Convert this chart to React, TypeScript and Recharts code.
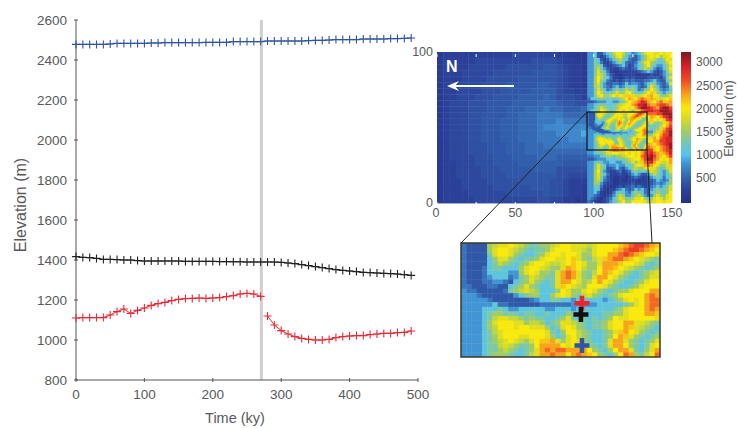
import React from "react";
import {
  ComposedChart,
  ScatterChart,
  Scatter,
  Line,
  Bar,
  XAxis,
  YAxis,
  ReferenceLine,
} from "recharts";

const FONT = "'Liberation Sans', Arial, sans-serif";
const TEXT = "#58595b";

const times = [
  0, 10, 20, 30, 40, 50, 60, 70, 80, 90, 100, 110, 120, 130, 140, 150, 160, 170, 180, 190, 200, 210, 220, 230, 240,
  250, 260, 270, 280, 290, 300, 310, 320, 330, 340, 350, 360, 370, 380, 390, 400, 410, 420, 430, 440, 450, 460, 470,
  480, 490,
];
const blueSeries = [
  2478, 2478, 2478, 2478, 2478, 2480, 2483, 2483, 2483, 2483, 2483, 2485, 2485, 2487, 2487, 2487, 2487, 2487, 2487,
  2488, 2488, 2488, 2488, 2492, 2492, 2492, 2492, 2492, 2495, 2495, 2495, 2495, 2495, 2495, 2497, 2498, 2498, 2500,
  2502, 2502, 2502, 2502, 2505, 2505, 2505, 2505, 2507, 2507, 2508, 2510,
];
const blackSeries = [
  1417, 1413, 1412, 1408, 1403, 1403, 1402, 1400, 1400, 1397, 1395, 1395, 1395, 1395, 1395, 1395, 1393, 1393, 1393,
  1393, 1393, 1392, 1392, 1391, 1391, 1390, 1390, 1390, 1390, 1390, 1388, 1385, 1382, 1377, 1372, 1367, 1362, 1357,
  1352, 1348, 1345, 1342, 1338, 1337, 1335, 1333, 1332, 1330, 1327, 1323,
];
// red series breaks after 270 ky
const redEarly = [
  1110, 1112, 1112, 1112, 1112, 1125, 1142, 1155, 1133, 1148, 1160, 1173, 1182, 1188, 1197, 1203, 1207, 1208, 1210,
  1208, 1210, 1212, 1217, 1222, 1230, 1233, 1230, 1218,
];
const redLate = [
  1120, 1075, 1047, 1030, 1017, 1008, 1003, 1000, 1000, 1003, 1012, 1017, 1020, 1022, 1022, 1027, 1030, 1033, 1033,
  1037, 1038, 1045,
];
const timeTicks = [0, 100, 200, 300, 400, 500];
const elevationTicks = [800, 1000, 1200, 1400, 1600, 1800, 2000, 2200, 2400, 2600];
const eventTime = 271;

// colormap: elevation (m) -> colour
const colorStops: [number, string][] = [
  [-40, "#272f85"],
  [250, "#2b429b"],
  [500, "#3361ae"],
  [800, "#4090d2"],
  [1000, "#55c4ee"],
  [1200, "#6cc6c4"],
  [1500, "#a0cc68"],
  [1800, "#d9dc22"],
  [2000, "#f9e90c"],
  [2300, "#f6a41c"],
  [2600, "#ee4c25"],
  [2900, "#d7212a"],
  [3200, "#7c1a1e"],
];

// map cells are written as one character per cell, looked up in these tables
const plainLevels: Record<string, number> = {
  "0": 150, "1": 230, "2": 300, "3": 360, "4": 420, "5": 480, "6": 550, "7": 640, "8": 750, "9": 900,
};
const ridgeLevels: Record<string, number> = {
  a: 100, b: 250, c: 420, d: 620, e: 820, f: 1080, g: 1300, h: 1500, i: 1680,
  j: 1850, k: 2000, l: 2150, m: 2300, n: 2500, o: 2700, p: 2900, q: 3100,
};

// x 0-96, y 100-0, 4 unit cells
const plainRows = [
  "011111111111222222211000",
  "011111222222222333321100",
  "011112222223333334432110",
  "011122222333333444432110",
  "011122223333344444432110",
  "011222233334444455432110",
  "011222233344444555532211",
  "011222333444455556533321",
  "012223334444555566654433",
  "012223334445556667665556",
  "012223344445566677776666",
  "012223344455566677787777",
  "012223344455566678888888",
  "012223344455566677788889",
  "012223344455566677777888",
  "012223334445556667777777",
  "012223334445556666666666",
  "012222333444555566655555",
  "011222333444455555554444",
  "011222233344444555533333",
  "011222233334444444433222",
  "011122223333344444332111",
  "011122222333333444332110",
  "011112222223333334332110",
  "011111222222222233221100",
];

// x 96-150, y 100-0, 2 unit cells
const ridgeRows = [
  "eefccefgikkigfdefhjkkjjkjkk",
  "eefcbcefhjkhfedcefhjkjkhjjk",
  "eegfcbcefhigfdccefhjjigfhkj",
  "eegfdbbcefhfdccdfhjkhgffgik",
  "eeghfcbbcdefdbcefgikhfeefhj",
  "eegigecbbbcdcbcdfgihgecdfhk",
  "eegjhfdbaabbbbbbcdefecbcegj",
  "eegjigecbaabbbbaabbbcbbcefh",
  "eehkigfdbbabcbcbbbbccccbdgj",
  "eehkhfdcbcbcdcdcccddefdccfh",
  "eehjgeccddcdfdeedcefhgedcej",
  "eehigedcefdegfgfdcdgjhfdcdg",
  "eegjhfdefhfgighfdeghkigedef",
  "eegkigfghjhhjkhgfgikljhfegh",
  "eegjkhhiklkjlljiijklmkjhghj",
  "dffghgfgfghikmlkmnmlmljijkl",
  "ccdeeeffeefgiklmnpomlkmnllm",
  "eefgggffghijkkmnppqnmmnoonm",
  "eefhjhgfghjkkjkmoqqponmpqqo",
  "efghkjhfgiklkjhjlnoppooqqqp",
  "efgijkjhgikmkjhhjlmnnnooqqq",
  "efhhjlkihikklkjhgijkmlkmopq",
  "eggfhjkjhhjkmlkjhfhjlkjklop",
  "edffhjkkjhhjkmmlkhghjhghjln",
  "ddefghjkkjihjklnmlifgfgikmo",
  "ccdddefgiklkjjkmklkhfghjmop",
  "ddefefddfgijkkjigffeehjlnoq",
  "cefgfhjihfgjlljigfeghjkmooq",
  "defjihkjihjlmkjhgfgjjmknopp",
  "eehjkjkkjkmlkihggijkkmmoopp",
  "eeghjkkjkmlkjhgghjkmlkmnopq",
  "eefgikmlkmnmlkjijkmnmlkmnoq",
  "eefghjkmnnmmlkjjkmnoolkmnop",
  "eefgghjjkkjjklkjkmoopnmlmnp",
  "ddeefghhfhhijkkjknopqomlkmo",
  "ccdeeefffggghijkkmoqqnmkjkm",
  "eefgfeeffeefghjhjlnopmkjijm",
  "eegjhfdeefeegfgjkjmnmkjhhjl",
  "eegjhfccdfdcefhihhjkjjhfgij",
  "eehkgecbbcdbcdfhfgfhjihfegj",
  "eehjhfdbbbcbbcefeccegigfefh",
  "eehjgecbaabbabcdcbbcefgfdfg",
  "eehigdcbaabaabbbabbccdfedeh",
  "eehhecbbaabbbbcbbbbccdedefh",
  "eegfdbbaabcbccdcdcbcdefefgj",
  "eeffcbabbdefdcdfefdcefhfghj",
  "eefdbaabdfgfedfhgfdcfghgfhk",
  "eedcbabcegiheefhigecehjhgjk",
  "edcbabcdfhjigghjjkhfhjkjhjk",
  "dcbaabcefgikhhjkkkjhijkkjkk",
];

// zoomed box: x 96-134, y 60-35, 1 unit cells
const insetRows = [
  "dcccchijjkjihgghhijkkjjjijkkkklmnoonml",
  "dcccchjkkjihgfgghjkkkjjihjkkklmnoonmlk",
  "dccccgjkkjhgffghjkkjkkjhhjkkmmnonmlkkj",
  "dccccfhjjhgfgghjkkjjkljhgijlmnnmlkjihg",
  "dccccfgihgfghjkkjiijklkjhhjmmmlkkjigfg",
  "dcccdfggfffhjkkjihhjmlkihhkmmlkjihgfgh",
  "dcccdffffeehjkjhhgjmnmjhgikmlkjhgfghij",
  "dcccdefffdeghjihggjmnmjhgjmmkjhgffghjj",
  "dcccddeedcfghjhgfgjmmkjhikmkjhgffghjkk",
  "ddcccddccfghjhgffgjlkjihkkkjhgffghjkkk",
  "eddcccccdghijihfffhkjhhjkjhgfghhjkkkmm",
  "eeedccccccefghhffhjkjhgijhgfghjkkkkmnm",
  "eeeeedcccccccdeffggffefffffefghjkjkmnn",
  "eeeeeefddccccccddddddeeeeefffffghjkmnn",
  "eeeefffgfeefffffeefffefffffffghjkkkmnm",
  "eeeefghhgggfggffgfffhgfgfffgghhjkkkmml",
  "eeeefgijjiihghggffghjgfgfgfghkjjkkkkkj",
  "eeeefhjkkkjjhiihfghjjihgfgghjkkmmjjihg",
  "eeeefhikkkjkkjjjhfgjkjhgfgghjkkmljihgf",
  "eeeefgijkkkkkkkkjgfhkkihgffghjlmkjhgfg",
  "eeeefghjkkkjjkkkjhfgjkihgffghkmljhgfgh",
  "eeeefghijkjihjkllmjhjkjhgffgjmmjhgfghj",
  "eeeefggijihgghkmmmmkjkjhhgfgjmmkhgfgjk",
  "eeeefgghihgfghjmnmnnmmmmkhgfhkmmjgfhjm",
  "eeeefghhhgffgijmmnmmkmnmlkhgfhknmhgikn",
];

const redCross = [{ x: 119.1, y: 46.8 }];
const blackCross = [{ x: 118.9, y: 44.3 }];
const blueCross = [{ x: 119.1, y: 37.5 }];

const mapXTicks = [0, 25, 50, 75, 100, 125, 150];
const mapYTicks = [0, 100];
const colorbarTicks = [500, 1000, 1500, 2000, 2500, 3000];
const colorbarRange = [{ name: "range", span: [-40, 3215] }];

const hexToRgb = (h: string) => [1, 3, 5].map((i) => parseInt(h.slice(i, i + 2), 16));

function elevationColor(v: number) {
  for (let i = 1; i < colorStops.length; i++) {
    const [v0, c0] = colorStops[i - 1];
    const [v1, c1] = colorStops[i];
    if (v <= v1) {
      const t = (v - v0) / (v1 - v0);
      const a = hexToRgb(c0);
      const b = hexToRgb(c1);
      return `rgb(${a.map((n, k) => Math.round(n + (b[k] - n) * t)).join(",")})`;
    }
  }
  return colorStops[colorStops.length - 1][1];
}

// turn the character rows into x / y / elevation cells
function toCells(rows: string[], levels: Record<string, number>, xLeft: number, yTop: number, step: number) {
  const cells: { x: number; y: number; z: number }[] = [];
  rows.forEach((row, j) => {
    row.split("").forEach((ch, i) => {
      cells.push({ x: xLeft + (i + 0.5) * step, y: yTop - (j + 0.5) * step, z: levels[ch] });
    });
  });
  return cells;
}

const plainCells = toCells(plainRows, plainLevels, 0, 100, 4);
const ridgeCells = toCells(ridgeRows, ridgeLevels, 96, 100, 2);
const insetCells = toCells(insetRows, ridgeLevels, 96, 60, 1);

const chartRows = times.map((t, i) => ({
  t,
  blue: blueSeries[i],
  black: blackSeries[i],
  redA: i < redEarly.length ? redEarly[i] : null,
  redB: i >= redEarly.length ? redLate[i - redEarly.length] : null,
}));

const plusDot = (color: string) => (props: any) => {
  const { cx, cy, index } = props;
  if (cx == null || cy == null) return <g key={index} />;
  return <path key={index} d={`M${cx - 4} ${cy}H${cx + 4}M${cx} ${cy - 4}V${cy + 4}`} stroke={color} strokeWidth={1.1} fill="none" />;
};

const cellShape = (w: number, h: number) => (props: any) => (
  <rect
    x={props.cx - w / 2}
    y={props.cy - h / 2}
    width={w + 0.4}
    height={h + 0.4}
    fill={elevationColor(props.payload.z)}
  />
);

const crossShape = (color: string) => (props: any) => (
  <path
    d={`M${props.cx - 7.5} ${props.cy}H${props.cx + 7.5}M${props.cx} ${props.cy - 7.5}V${props.cy + 7.5}`}
    stroke={color}
    strokeWidth={4.5}
    fill="none"
  />
);

const ElevationTick = ({ x, y, payload }: any) => (
  <g>
    <line x1={x} x2={x + 4} y1={y} y2={y} stroke="#555" />
    <text x={x - 7} y={y + 4.5} textAnchor="end" fontSize={13.5} fill={TEXT} fontFamily={FONT}>
      {payload.value}
    </text>
  </g>
);

const TimeTick = ({ x, y, payload }: any) => (
  <g>
    <line x1={x} x2={x} y1={y} y2={y - 4} stroke="#555" />
    <text x={x} y={y + 17} textAnchor="middle" fontSize={13.5} fill={TEXT} fontFamily={FONT}>
      {payload.value}
    </text>
  </g>
);

const MapXTick = ({ x, y, payload }: any) => (
  <g>
    <line x1={x} x2={x} y1={y} y2={y - 3} stroke="#fff" />
    <line x1={x} x2={x} y1={y - 151} y2={y - 148} stroke="#fff" />
    {payload.value % 50 === 0 && (
      <text x={x - (payload.value === 0 ? 1 : 0)} y={y + 12} textAnchor="middle" fontSize={12.5} fill={TEXT} fontFamily={FONT}>
        {payload.value}
      </text>
    )}
  </g>
);

const MapYTick = ({ x, y, payload }: any) => (
  <text x={x - 2} y={y + 4} textAnchor="end" fontSize={12.5} fill={TEXT} fontFamily={FONT}>
    {payload.value}
  </text>
);

const ColorbarTick = ({ x, y, payload }: any) => (
  <g>
    <line x1={x - 2} x2={x} y1={y} y2={y} stroke="#fff" />
    <text x={x + 3} y={y + 4.5} fontSize={12} fill={TEXT} fontFamily={FONT}>
      {payload.value}
    </text>
  </g>
);

export default function App() {
  return (
    <div style={{ position: "absolute", left: 0, top: 0, width: 737, height: 428, background: "#fff", fontFamily: FONT }}>
      <div style={{ position: "absolute", left: 0, top: 0 }}>
        <ComposedChart width={430} height={428} data={chartRows} margin={{ top: 20, right: 12, bottom: 0, left: 0 }}>
          <XAxis
            dataKey="t"
            type="number"
            domain={[0, 500]}
            ticks={timeTicks}
            tick={<TimeTick />}
            tickLine={false}
            tickSize={0}
            height={48}
            stroke="#555"
            label={{ value: "Time (ky)", position: "insideBottom", offset: 5, dx: -12, fontSize: 14.5, fill: TEXT, fontFamily: FONT }}
          />
          <YAxis
            type="number"
            domain={[800, 2600]}
            ticks={elevationTicks}
            tick={<ElevationTick />}
            tickLine={false}
            tickSize={0}
            width={76}
            stroke="#555"
            label={{ value: "Elevation (m)", angle: -90, position: "insideLeft", offset: 20, dy: 5, textAnchor: "middle", fontSize: 16, fill: TEXT, fontFamily: FONT }}
          />
          <ReferenceLine x={eventTime} stroke="#cfcfcf" strokeWidth={3} />
          <Line dataKey="blue" stroke="#2f55a4" strokeWidth={1} dot={plusDot("#2f55a4")} isAnimationActive={false} />
          <Line dataKey="black" stroke="#222" strokeWidth={1} dot={plusDot("#222")} isAnimationActive={false} />
          <Line dataKey="redA" stroke="#ec2a35" strokeWidth={1} dot={plusDot("#ec2a35")} isAnimationActive={false} />
          <Line dataKey="redB" stroke="#ec2a35" strokeWidth={1} dot={plusDot("#ec2a35")} isAnimationActive={false} />
        </ComposedChart>
      </div>

      {/* map */}
      <div style={{ position: "absolute", left: 407, top: 42 }}>
        <ScatterChart width={280} height={181} margin={{ top: 10, right: 15, bottom: 0, left: 0 }}>
          <XAxis
            dataKey="x"
            type="number"
            domain={[0, 150]}
            ticks={mapXTicks}
            interval={0}
            tick={<MapXTick />}
            tickLine={false}
            axisLine={false}
            tickSize={0}
            height={20}
          />
          <YAxis
            dataKey="y"
            type="number"
            domain={[0, 100]}
            ticks={mapYTicks}
            tick={<MapYTick />}
            tickLine={false}
            axisLine={false}
            tickSize={0}
            width={30}
          />
          <Scatter data={plainCells} shape={cellShape(6.27, 6.04)} isAnimationActive={false} />
          <Scatter data={ridgeCells} shape={cellShape(3.13, 3.02)} isAnimationActive={false} />
          <Scatter data={insetCells} shape={cellShape(1.57, 1.51)} isAnimationActive={false} />
        </ScatterChart>
      </div>

      {/* colour bar */}
      <div style={{ position: "absolute", left: 676, top: 42 }}>
        <ComposedChart width={61} height={161} data={colorbarRange} margin={{ top: 10, right: 0, bottom: 0, left: 5 }} barCategoryGap={0}>
          <defs>
            <linearGradient id="elevationBar" x1="0" y1="1" x2="0" y2="0">
              {colorStops.map(([v, c]) => (
                <stop key={v} offset={(v + 40) / 3255} stopColor={c} />
              ))}
            </linearGradient>
          </defs>
          <XAxis dataKey="name" hide />
          <YAxis
            orientation="right"
            type="number"
            domain={[-40, 3215]}
            ticks={colorbarTicks}
            tick={<ColorbarTick />}
            tickLine={false}
            axisLine={false}
            tickSize={0}
            width={46}
            label={{ value: "Elevation (m)", angle: -90, position: "insideRight", offset: 9, dy: -9, textAnchor: "middle", fontSize: 13, fill: TEXT, fontFamily: FONT }}
          />
          <Bar dataKey="span" fill="url(#elevationBar)" isAnimationActive={false} />
        </ComposedChart>
      </div>

      {/* zoomed box */}
      <div style={{ position: "absolute", left: 461, top: 243 }}>
        <ScatterChart width={199} height={114} margin={{ top: 0, right: 0, bottom: 0, left: 0 }}>
          <XAxis dataKey="x" type="number" domain={[96, 134]} hide />
          <YAxis dataKey="y" type="number" domain={[35, 60]} hide />
          <Scatter data={insetCells} shape={cellShape(5.24, 4.56)} isAnimationActive={false} />
          <Scatter data={redCross} shape={crossShape("#e8262e")} isAnimationActive={false} />
          <Scatter data={blackCross} shape={crossShape("#111")} isAnimationActive={false} />
          <Scatter data={blueCross} shape={crossShape("#2f55a4")} isAnimationActive={false} />
        </ScatterChart>
      </div>

      {/* north arrow, zoom box and zoom lines */}
      <svg width={737} height={428} style={{ position: "absolute", left: 0, top: 0, pointerEvents: "none" }}>
        <rect x={587} y={112} width={60} height={38} fill="none" stroke="#111" strokeWidth={1.2} />
        <rect x={461} y={243} width={199} height={114} fill="none" stroke="#3a3a2a" strokeWidth={1.5} />
        <line x1={587} y1={112} x2={461} y2={243} stroke="#222" strokeWidth={1} />
        <line x1={647} y1={150} x2={652} y2={243} stroke="#222" strokeWidth={1} />
        <line x1={452} y1={86} x2={514} y2={86} stroke="#fff" strokeWidth={2} />
        <path d="M447 86l12-5l-4 5l4 5z" fill="#fff" />
        <text x={446} y={72} fontSize={16} fontWeight="bold" fill="#fff" fontFamily={FONT}>
          N
        </text>
      </svg>
    </div>
  );
}
